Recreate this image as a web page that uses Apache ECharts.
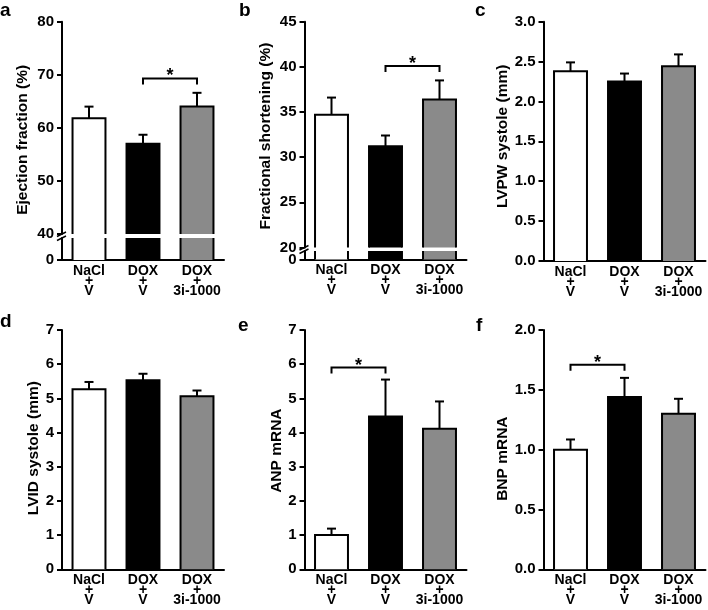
<!DOCTYPE html>
<html><head><meta charset="utf-8">
<script src="https://cdn.jsdelivr.net/npm/echarts@6/dist/echarts.min.js"></script>
<style>html,body{margin:0;padding:0;background:#fff}#c{width:708px;height:610px}</style>
</head><body><div id="c"></div><script>
// ---------- data ----------
const categories = ['NaCl\n+\nV', 'DOX\n+\nV', 'DOX\n+\n3i-1000'];
const barColors = ['#ffffff', '#000000', '#8a8a8a'];

const efMean = [61.8, 57.0, 64.0];
const efErr = [2.2, 1.7, 2.6];
const fsMean = [34.7, 31.2, 36.4];
const fsErr = [1.9, 1.2, 2.1];
const lvpwMean = [2.38, 2.25, 2.44];
const lvpwErr = [0.11, 0.10, 0.15];
const lvidMean = [5.27, 5.53, 5.06];
const lvidErr = [0.21, 0.19, 0.17];
const anpMean = [1.0, 4.47, 4.11];
const anpErr = [0.19, 1.08, 0.80];
const bnpMean = [1.0, 1.44, 1.30];
const bnpErr = [0.085, 0.16, 0.125];

// axis ranges [min, max, interval]
const efAxis = [40, 80, 10];
const fsAxis = [20, 45, 5];
const lvpwAxis = [0, 3, 0.5];
const lvidAxis = [0, 7, 1];
const anpAxis = [0, 7, 1];
const bnpAxis = [0, 2, 0.5];

// significance brackets [fromIndex, toIndex, yValue]
const efSig = [1, 2, 69.3];
const fsSig = [1, 2, 40.1];
const anpSig = [0, 1, 5.9];
const bnpSig = [0, 1, 1.71];

// ---------- layout ----------
const FONT = '"Liberation Sans", Arial, Helvetica, sans-serif';
const GW = 162;
const panels = [
  {letter:'a', lx:0, ly:1, mean:efMean, err:efErr, axis:efAxis, sig:efSig, name:'Ejection fraction (%)', left:62, top:21.7, bottom:260, brk:[234, 238], nameGap:31, nameShift:12, dec:0},
  {letter:'b', lx:239, ly:1, mean:fsMean, err:fsErr, axis:fsAxis, sig:fsSig, name:'Fractional shortening (%)', left:304.5, top:21.7, bottom:259.5, brk:[247.5, 251], nameGap:31, nameShift:1.5, dec:0},
  {letter:'c', lx:475, ly:1, mean:lvpwMean, err:lvpwErr, axis:lvpwAxis, sig:null, name:'LVPW systole (mm)', left:543.5, top:21.7, bottom:261, brk:null, nameGap:31, nameShift:-5, dec:1},
  {letter:'d', lx:0, ly:312, mean:lvidMean, err:lvidErr, axis:lvidAxis, sig:null, name:'LVID systole (mm)', left:62, top:330, bottom:569.3, brk:null, nameGap:20, nameShift:-1.5, dec:0},
  {letter:'e', lx:238, ly:316, mean:anpMean, err:anpErr, axis:anpAxis, sig:anpSig, name:'ANP mRNA', left:304.5, top:330, bottom:569.3, brk:null, nameGap:20, nameShift:1, dec:0},
  {letter:'f', lx:476, ly:316, mean:bnpMean, err:bnpErr, axis:bnpAxis, sig:bnpSig, name:'BNP mRNA', left:543.5, top:330, bottom:569.3, brk:null, nameGap:31, nameShift:9, dec:1}
];

function renderBar(params, api) {
  const cs = params.coordSys;
  const idx = api.value(0), val = api.value(1);
  const pt = api.coord([idx, val]);
  const w = api.size([1, 0])[0] * 0.61;
  const x0 = pt[0] - w / 2, x1 = pt[0] + w / 2;
  const bottom = cs.y + cs.height;
  const clipped = pt[1] < cs.y;
  const top = clipped ? cs.y : pt[1];
  const children = [
    {type:'rect', shape:{x:x0, y:top, width:w, height:bottom - top}, style:{fill:barColors[idx]}}
  ];
  if (clipped) {
    children.push({type:'line', shape:{x1:x0, y1:top, x2:x0, y2:bottom}, style:{stroke:'#000', lineWidth:2}});
    children.push({type:'line', shape:{x1:x1, y1:top, x2:x1, y2:bottom}, style:{stroke:'#000', lineWidth:2}});
  } else {
    children.push({type:'polyline', shape:{points:[[x0, bottom], [x0, top], [x1, top], [x1, bottom]]}, style:{stroke:'#000', lineWidth:2, fill:null}});
  }
  return {type:'group', children};
}
function renderErr(params, api) {
  const idx = api.value(0), m = api.value(1), e = api.value(2);
  const p0 = api.coord([idx, m]), p1 = api.coord([idx, m + e]);
  return {type:'group', children:[
    {type:'line', shape:{x1:p0[0], y1:p0[1], x2:p1[0], y2:p1[1]}, style:{stroke:'#000', lineWidth:2}},
    {type:'line', shape:{x1:p1[0] - 4.5, y1:p1[1], x2:p1[0] + 4.5, y2:p1[1]}, style:{stroke:'#000', lineWidth:2}}
  ]};
}
function renderSig(params, api) {
  const a = api.coord([api.value(0), api.value(2)]);
  const b = api.coord([api.value(1), api.value(2)]);
  return {type:'group', children:[
    {type:'polyline', shape:{points:[[a[0], a[1] + 6], [a[0], a[1]], [b[0], b[1]], [b[0], b[1] + 6]]}, style:{stroke:'#000', lineWidth:2, fill:null}},
    {type:'text', style:{text:'*', x:(a[0] + b[0]) / 2, y:a[1] - 2, align:'center', verticalAlign:'middle', font:'bold 18px ' + FONT, fill:'#000'}}
  ]};
}

const grid = [], xAxis = [], yAxis = [], series = [], title = [], graphic = [];
const lineStyle = {color:'#000', width:2};
const xLabelStyle = {color:'#000', fontSize:14, fontWeight:'bold', fontFamily:FONT};
const yLabelStyle = {color:'#000', fontSize:15, fontWeight:'bold', fontFamily:FONT};

panels.forEach(p => {
  title.push({text:p.letter, left:p.lx, top:p.ly, padding:0, textStyle:{fontSize:19, fontWeight:'bold', color:'#000', fontFamily:FONT}});
  const mainTop = p.top;
  const mainBottom = p.brk ? p.brk[0] : p.bottom;
  const gMain = grid.length;
  grid.push({left:p.left, top:mainTop, width:GW, height:mainBottom - mainTop, containLabel:false});
  const s = p.nameShift;
  xAxis.push({type:'category', gridIndex:gMain, data:categories, boundaryGap:true,
    show: !p.brk,
    axisLine:{show:true, onZero:false, lineStyle},
    axisTick:{show:false},
    axisLabel:{...xLabelStyle, interval:0, lineHeight:10, margin:6}
  });
  yAxis.push({type:'value', gridIndex:gMain, min:p.axis[0], max:p.axis[1], interval:p.axis[2],
    axisLine:{show:true, lineStyle},
    axisTick:{show:true, length:5, lineStyle},
    splitLine:{show:false},
    axisLabel:{...yLabelStyle, margin:8, formatter: v => v.toFixed(p.dec)},
    name:p.name, nameLocation:'middle', nameGap:p.nameGap,
    nameTextStyle:{color:'#000', fontSize:15.5, fontWeight:'bold', fontFamily:FONT,
      padding: s > 0 ? [0, 2 * s, 0, 0] : [0, 0, 0, -2 * s]}
  });
  const data = p.mean.map((m, i) => [i, m]);
  series.push({type:'custom', coordinateSystem:'cartesian2d', xAxisIndex:gMain, yAxisIndex:gMain, renderItem:renderBar, data, encode:{x:0, y:1}, silent:true, animation:false});
  series.push({type:'custom', coordinateSystem:'cartesian2d', xAxisIndex:gMain, yAxisIndex:gMain, renderItem:renderErr, data:p.mean.map((m, i) => [i, m, p.err[i]]), encode:{x:0, y:1}, silent:true, animation:false});
  if (p.sig) {
    series.push({type:'custom', coordinateSystem:'cartesian2d', xAxisIndex:gMain, yAxisIndex:gMain, renderItem:renderSig, data:[p.sig], encode:{x:[0, 1], y:2}, silent:true, animation:false});
  }
  if (p.brk) {
    const gLow = grid.length;
    grid.push({left:p.left, top:p.brk[1], width:GW, height:p.bottom - p.brk[1], containLabel:false});
    xAxis.push({type:'category', gridIndex:gLow, data:categories, boundaryGap:true,
      axisLine:{show:true, onZero:false, lineStyle},
      axisTick:{show:false},
      axisLabel:{...xLabelStyle, interval:0, lineHeight:10, margin:6}
    });
    yAxis.push({type:'value', gridIndex:gLow, min:0, max:1,
      axisLine:{show:true, lineStyle},
      axisTick:{show:true, length:5, lineStyle, customValues:[0]},
      splitLine:{show:false},
      axisLabel:{...yLabelStyle, margin:8, customValues:[0], formatter: v => String(v)}
    });
    series.push({type:'custom', coordinateSystem:'cartesian2d', xAxisIndex:gLow, yAxisIndex:gLow, renderItem:renderBar, data, encode:{x:0, y:1}, silent:true, animation:false});
    // axis break marks
    [p.brk[0], p.brk[1]].forEach(y => {
      graphic.push({type:'line', shape:{x1:p.left - 5, y1:y + 2.5, x2:p.left + 4, y2:y - 2}, style:{stroke:'#000', lineWidth:1.5}, silent:true});
    });
  }
});

const chart = echarts.init(document.getElementById('c'), null, {renderer:'canvas'});
chart.setOption({animation:false, backgroundColor:'#fff', title, grid, xAxis, yAxis, series, graphic});
</script></body></html>
